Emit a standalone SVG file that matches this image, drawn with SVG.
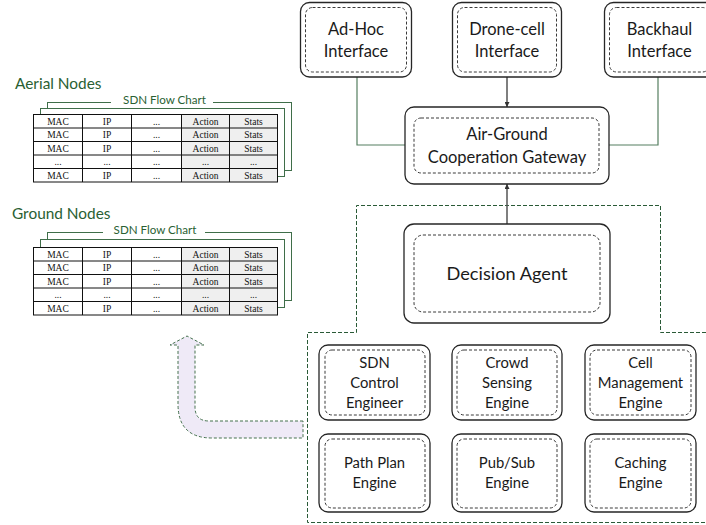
<svg xmlns="http://www.w3.org/2000/svg" width="706" height="525" viewBox="0 0 706 525">
<style>
.outer{fill:#fff;stroke:#262626;stroke-width:1.3}
.inner{fill:none;stroke:#3a3a3a;stroke-width:1;stroke-dasharray:3 2}
.t{font-family:Lato,"Liberation Sans",sans-serif;fill:#1a1a1a;text-anchor:middle}
.big{font-size:16.5px}
.eng{font-size:14.8px}
.lay{fill:#fff;stroke:#3f6e49;stroke-width:1}
.gl{fill:none;stroke:#557f60;stroke-width:1.2}
.dk{fill:none;stroke:#555;stroke-width:1.5}
.gt{font-family:Lato,"Liberation Sans",sans-serif;fill:#2a5f33}
.cell{fill:none;stroke:#111;stroke-width:1}
.gray{fill:#efefef}
.tb{font-family:"Liberation Serif",serif;font-size:9.5px;fill:#111;text-anchor:middle}
</style>
<defs>
<marker id="ah" viewBox="0 0 10 10" refX="10" refY="5" markerWidth="5" markerHeight="5" orient="auto" markerUnits="userSpaceOnUse">
<path d="M0,0 L10,5 L0,10 Z" fill="#333"/>
</marker>
</defs>
<rect width="706" height="525" fill="#fff"/>

<g id="aerial-nodes">
<text class="gt" x="15" y="89" font-size="15.4">Aerial Nodes</text>
<rect class="lay" x="47.5" y="102.5" width="244" height="68"/>
<rect class="lay" x="40.5" y="108.5" width="244" height="68"/>
<rect x="111" y="95" width="102" height="10" fill="#fff"/>
<text class="gt" x="164.5" y="103.5" font-size="11.6" text-anchor="middle">SDN Flow Chart</text>
<rect x="33.5" y="114.5" width="244" height="67.5" fill="#fff"/>
<rect class="gray" x="181.5" y="114.5" width="96" height="67.5"/>
<g class="cell">
<rect x="33.5" y="114.5" width="244" height="67.5"/>
<path d="M33.5,128H277.5M33.5,141.5H277.5M33.5,155H277.5M33.5,168.5H277.5M82.5,114.5V182M131.5,114.5V182M181.5,114.5V182M229.5,114.5V182"/>
</g>
<g class="tb">
<text x="58" y="124.5">MAC</text><text x="107" y="124.5">IP</text><text x="156.5" y="124.5">...</text><text x="205.5" y="124.5">Action</text><text x="253.5" y="124.5">Stats</text>
<text x="58" y="138">MAC</text><text x="107" y="138">IP</text><text x="156.5" y="138">...</text><text x="205.5" y="138">Action</text><text x="253.5" y="138">Stats</text>
<text x="58" y="151.5">MAC</text><text x="107" y="151.5">IP</text><text x="156.5" y="151.5">...</text><text x="205.5" y="151.5">Action</text><text x="253.5" y="151.5">Stats</text>
<text x="58" y="165">...</text><text x="107" y="165">...</text><text x="156.5" y="165">...</text><text x="205.5" y="165">...</text><text x="253.5" y="165">...</text>
<text x="58" y="178.5">MAC</text><text x="107" y="178.5">IP</text><text x="156.5" y="178.5">...</text><text x="205.5" y="178.5">Action</text><text x="253.5" y="178.5">Stats</text>
</g>
</g>

<g id="ground-nodes">
<text class="gt" x="12" y="219" font-size="15.4">Ground Nodes</text>
<rect class="lay" x="47.5" y="232.5" width="244" height="68"/>
<rect class="lay" x="40.5" y="239.5" width="244" height="68"/>
<rect x="103" y="225" width="102" height="10" fill="#fff"/>
<text class="gt" x="155" y="233.5" font-size="11.6" text-anchor="middle">SDN Flow Chart</text>
<rect x="33.5" y="247.5" width="244" height="67.5" fill="#fff"/>
<rect class="gray" x="181.5" y="247.5" width="96" height="67.5"/>
<g class="cell">
<rect x="33.5" y="247.5" width="244" height="67.5"/>
<path d="M33.5,261H277.5M33.5,274.5H277.5M33.5,288H277.5M33.5,301.5H277.5M82.5,247.5V315M131.5,247.5V315M181.5,247.5V315M229.5,247.5V315"/>
</g>
<g class="tb">
<text x="58" y="257.5">MAC</text><text x="107" y="257.5">IP</text><text x="156.5" y="257.5">...</text><text x="205.5" y="257.5">Action</text><text x="253.5" y="257.5">Stats</text>
<text x="58" y="271">MAC</text><text x="107" y="271">IP</text><text x="156.5" y="271">...</text><text x="205.5" y="271">Action</text><text x="253.5" y="271">Stats</text>
<text x="58" y="284.5">MAC</text><text x="107" y="284.5">IP</text><text x="156.5" y="284.5">...</text><text x="205.5" y="284.5">Action</text><text x="253.5" y="284.5">Stats</text>
<text x="58" y="298">...</text><text x="107" y="298">...</text><text x="156.5" y="298">...</text><text x="205.5" y="298">...</text><text x="253.5" y="298">...</text>
<text x="58" y="311.5">MAC</text><text x="107" y="311.5">IP</text><text x="156.5" y="311.5">...</text><text x="205.5" y="311.5">Action</text><text x="253.5" y="311.5">Stats</text>
</g>
</g>

<g id="controller-boundary">
<path d="M706,332.5 L660.5,332.5 L660.5,205.5 L356.5,205.5 L356.5,332.5 L307.5,332.5 L307.5,522.5 L706,522.5" fill="none" stroke="#2a5a37" stroke-width="1" stroke-dasharray="4 2"/>
</g>

<g id="feedback-arrow">
<path d="M303,421 L209,421 Q195,421 195,407 L195,345 L204,345 L187,336 L170,345 L178,345 L178,404 Q178,438 212,438 L303,438 Z" fill="#efeaf7" stroke="#46724f" stroke-width="1" stroke-dasharray="3 2"/>
</g>

<g id="connectors">
<path class="gl" d="M357,77 V145 H405"/>
<path class="gl" d="M658,77 V145 H609"/>
<path class="dk" d="M507,77 V107" marker-end="url(#ah)"/>
<path class="dk" d="M507,224 V184" marker-end="url(#ah)"/>
</g>

<g id="adhoc-interface">
<rect class="outer" x="300.5" y="2.5" width="111" height="74.5" rx="9"/>
<rect class="inner" x="305.5" y="7.5" width="101" height="64.5" rx="7"/>
<text class="t big" x="356" y="35">Ad-Hoc</text>
<text class="t big" x="356" y="57">Interface</text>
</g>
<g id="dronecell-interface">
<rect class="outer" x="452.5" y="2.5" width="109" height="74.5" rx="9"/>
<rect class="inner" x="457.5" y="7.5" width="99" height="64.5" rx="7"/>
<text class="t big" x="507" y="35">Drone-cell</text>
<text class="t big" x="507" y="57">Interface</text>
</g>
<g id="backhaul-interface">
<rect class="outer" x="604.5" y="2.5" width="110" height="74.5" rx="9"/>
<rect class="inner" x="609.5" y="7.5" width="100" height="64.5" rx="7"/>
<text class="t big" x="659.5" y="35">Backhaul</text>
<text class="t big" x="659.5" y="57">Interface</text>
</g>

<g id="gateway">
<rect class="outer" x="405" y="107" width="204" height="77" rx="9"/>
<rect class="inner" x="414" y="118" width="185" height="55" rx="7"/>
<text class="t big" x="507" y="140" font-size="16.7">Air-Ground</text>
<text class="t big" x="507" y="163" font-size="16.7">Cooperation Gateway</text>
</g>

<g id="decision-agent">
<rect class="outer" x="404" y="224" width="206" height="99" rx="10"/>
<rect class="inner" x="414" y="235" width="186" height="77" rx="9"/>
<text class="t" x="507" y="280" font-size="18.2">Decision Agent</text>
</g>

<g id="sdn-control">
<rect class="outer" x="319" y="345" width="111" height="75" rx="9"/>
<rect class="inner" x="325" y="350" width="100" height="65" rx="7"/>
<text class="t eng" x="374.5" y="368">SDN</text>
<text class="t eng" x="374.5" y="388">Control</text>
<text class="t eng" x="374.5" y="408">Engineer</text>
</g>
<g id="crowd-sensing">
<rect class="outer" x="452" y="345" width="110" height="75" rx="9"/>
<rect class="inner" x="457" y="350" width="100" height="65" rx="7"/>
<text class="t eng" x="507" y="368">Crowd</text>
<text class="t eng" x="507" y="388">Sensing</text>
<text class="t eng" x="507" y="408">Engine</text>
</g>
<g id="cell-management">
<rect class="outer" x="585" y="345" width="111" height="75" rx="9"/>
<rect class="inner" x="590" y="350" width="101" height="65" rx="7"/>
<text class="t eng" x="640.5" y="368">Cell</text>
<text class="t eng" x="640.5" y="388">Management</text>
<text class="t eng" x="640.5" y="408">Engine</text>
</g>
<g id="path-plan">
<rect class="outer" x="319" y="434" width="111" height="78" rx="9"/>
<rect class="inner" x="325" y="439" width="100" height="69" rx="7"/>
<text class="t eng" x="374.5" y="467.5">Path Plan</text>
<text class="t eng" x="374.5" y="487.5">Engine</text>
</g>
<g id="pubsub">
<rect class="outer" x="452" y="434" width="110" height="78" rx="9"/>
<rect class="inner" x="457" y="439" width="100" height="69" rx="7"/>
<text class="t eng" x="507" y="467.5">Pub/Sub</text>
<text class="t eng" x="507" y="487.5">Engine</text>
</g>
<g id="caching">
<rect class="outer" x="585" y="434" width="111" height="78" rx="9"/>
<rect class="inner" x="590" y="439" width="101" height="69" rx="7"/>
<text class="t eng" x="640.5" y="467.5">Caching</text>
<text class="t eng" x="640.5" y="487.5">Engine</text>
</g>
</svg>
